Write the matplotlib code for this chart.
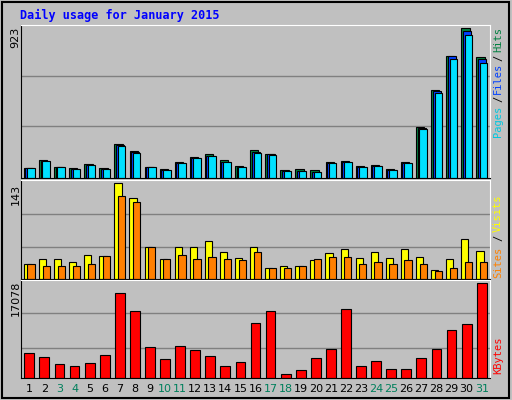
import numpy as np
import matplotlib.pyplot as plt
from matplotlib.patches import Rectangle

days = np.arange(1, 32)
weekend = [3, 4, 10, 11, 17, 18, 24, 25, 31]

hits = [63, 113, 69, 63, 88, 63, 208, 164, 69, 57, 101, 132, 145, 113, 76, 170,
        145, 50, 57, 50, 101, 107, 76, 82, 57, 101, 315, 541, 749, 923, 743]
files = [63, 107, 69, 57, 82, 57, 201, 157, 69, 50, 95, 126, 138, 101, 69, 157,
         145, 44, 44, 38, 95, 101, 69, 76, 50, 95, 308, 535, 749, 904, 730]
pages = [61, 104, 67, 55, 80, 55, 196, 153, 67, 49, 92, 122, 134, 98, 67, 153,
         141, 43, 43, 37, 92, 98, 67, 74, 49, 92, 300, 520, 730, 880, 710]
sites = [23, 30, 30, 25, 36, 34, 143, 121, 48, 30, 48, 48, 57, 40, 31, 47,
         16, 20, 20, 28, 39, 44, 31, 40, 31, 44, 33, 14, 30, 59, 42]
visits = [23, 19, 20, 20, 23, 34, 123, 115, 47, 30, 36, 30, 33, 30, 28, 40,
          16, 16, 20, 30, 33, 33, 22, 26, 23, 28, 23, 12, 17, 25, 26]
kbytes = [4486, 3738, 2430, 2243, 2617, 4112, 15202, 11962, 5607, 3364, 5794,
          5046, 3925, 2243, 2804, 9906, 11962, 748, 1495, 3551, 5233, 12336,
          2243, 2990, 1682, 1682, 3551, 5233, 8598, 9719, 17078]

BG = "#C0C0C0"
fig = plt.figure(figsize=(5.12, 4.0), dpi=100, facecolor=BG)
fig.patches.append(Rectangle((0.004, 0.005), 0.99, 0.99, transform=fig.transFigure,
                             fill=False, edgecolor="black", lw=1.5))

x0, w = 21 / 512, 469 / 512


def panel(top, bottom, ymax):
    ax = fig.add_axes([x0, 1 - bottom / 400, w, (bottom - top) / 400])
    ax.set_facecolor(BG)
    ax.set_xlim(0.45, 31.55)
    ax.set_ylim(0, ymax)
    ax.set_xticks([])
    ax.set_yticks([])
    for s in ax.spines.values():
        s.set_color("black")
    ax.spines["top"].set_color("white")
    ax.spines["right"].set_color("white")
    return ax


def side(y, s, color="black"):
    fig.text(0.973, 1 - y / 400, s, rotation=90, color=color, family="monospace",
             fontsize=7.5, ha="center", va="center")


ax1 = panel(25, 178, 923 * 1.02)
for g in [923 * 0.35, 923 * 0.68]:
    ax1.axhline(g, color="#808080", lw=1, zorder=0)
ax1.bar(days - 0.08, hits, width=0.55, color="#008040", edgecolor="black", lw=0.8)
ax1.bar(days + 0.02, files, width=0.55, color="#0040FF", edgecolor="black", lw=0.8)
ax1.bar(days + 0.12, pages, width=0.5, color="#00E0FF", edgecolor="black", lw=0.8)
fig.text(0.03, 1 - 37 / 400, "923", rotation=90, ha="center", va="center", fontsize=8)
side(40, "Hits", "#008040")
side(58, "/")
side(78, "Files", "#0040FF")
side(99, "/")
side(121, "Pages", "#00C8E0")

ax2 = panel(180, 279, 143 * 1.03)
for g in [143 * 0.33, 143 * 0.68]:
    ax2.axhline(g, color="#808080", lw=1, zorder=0)
ax2.bar(days - 0.12, sites, width=0.48, color="#FFFF00", edgecolor="black", lw=0.8)
ax2.bar(days + 0.12, visits, width=0.48, color="#FF8000", edgecolor="black", lw=0.8)
fig.text(0.03, 1 - 194 / 400, "143", rotation=90, ha="center", va="center", fontsize=8)
side(213, "Visits", "#FFFF00")
side(238, "/")
side(262, "Sites", "#FF8000")

ax3 = panel(280, 378, 17078 * 1.03)
for g in [17078 * 0.32, 17078 * 0.68]:
    ax3.axhline(g, color="#808080", lw=1, zorder=0)
ax3.bar(days, kbytes, width=0.65, color="#FF0000", edgecolor="black", lw=0.8)
fig.text(0.03, 1 - 298 / 400, "17078", rotation=90, ha="center", va="center", fontsize=8)
side(355, "KBytes", "#FF0000")

for d in days:
    xf = x0 + w * (d - 0.45) / 31.1
    fig.text(xf, 1 - 389 / 400, str(d), ha="center", va="center", fontsize=8,
             color="#00805C" if d in weekend else "black")

fig.text(20 / 512, 1 - 15 / 400, "Daily usage for January 2015", color="#0000FF",
         fontweight="bold", family="monospace", fontsize=8.5, ha="left", va="center")

fig.savefig("out.png", dpi=100, facecolor=BG)
